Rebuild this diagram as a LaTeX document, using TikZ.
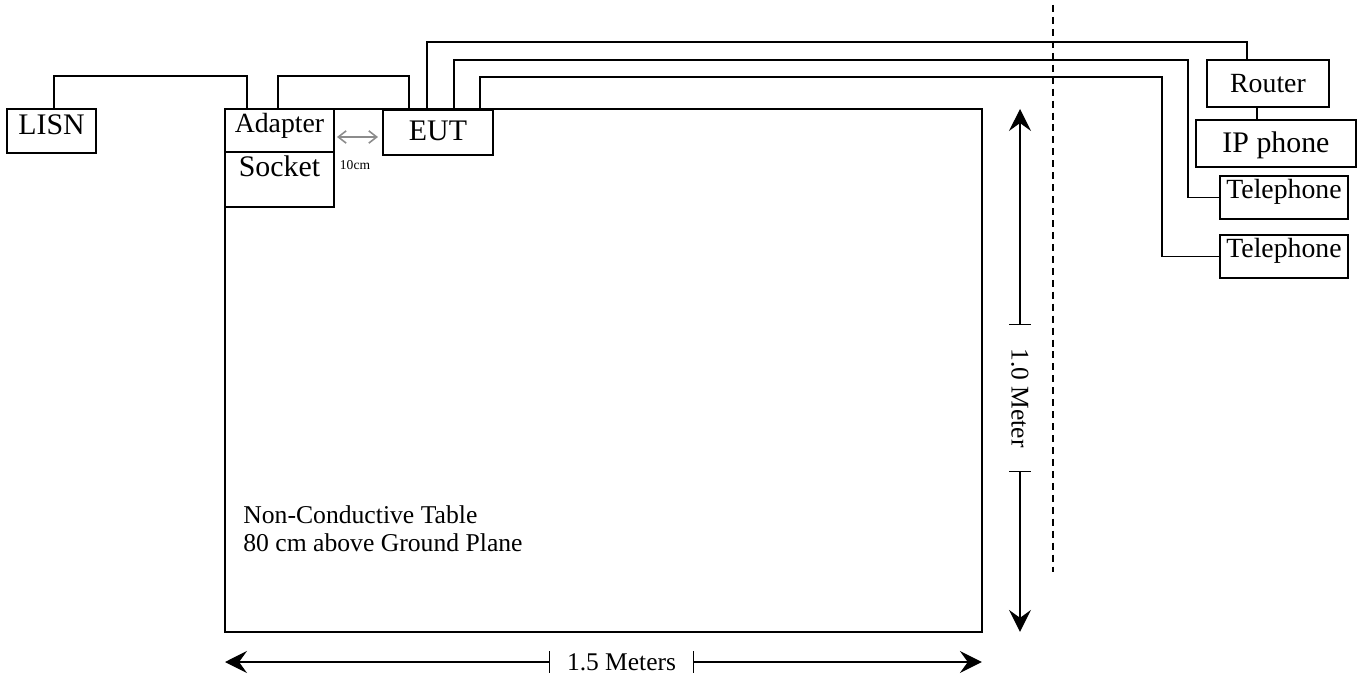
\documentclass[tikz,border=0pt]{standalone}
\usepackage{fontspec}
\setmainfont{Liberation Serif}
\usepackage{tikz}
\usetikzlibrary{arrows.meta,positioning}

\begin{document}
\begin{tikzpicture}[
    x=0.02cm, y=-0.02cm,
    box/.style={draw, line width=1pt, inner sep=0pt, outer sep=0pt, anchor=north west, fill=white},
    big/.style={font=\fontsize{17}{20}\selectfont},
    mid/.style={font=\fontsize{15.8}{19}\selectfont},
    wire/.style={line width=0.9pt},
    dimtext/.style={font=\fontsize{14.5}{17}\selectfont, inner sep=0pt, outer sep=0pt},
    dimline/.style={line width=0.75pt, {Bar[width=12pt]}-{Stealth[length=12.5pt, width=12.5pt, inset=4.5pt]}},
    gap/.style={draw=black!45, line width=0.9pt, {Straight Barb[length=4.5pt, width=7pt]}-{Straight Barb[length=4.5pt, width=7pt]}}
]
\useasboundingbox (0,0) rectangle (1362,678);

% table
\node[draw, line width=1pt, inner sep=0pt, outer sep=0pt, anchor=north west,
      minimum width=15.14cm, minimum height=10.46cm] (table) at (225,109) {};
\node[font=\fontsize{14.6}{16.4}\selectfont, align=left, inner sep=0pt, anchor=north west]
    (tabletext) at (243,505) {Non-Conductive Table\\80 cm above Ground Plane};

% equipment
\node[box, big, minimum width=1.78cm, text height=0.52cm, text depth=0.36cm] (LISN) at (7,109) {LISN};
\node[box, mid, minimum width=2.18cm, text height=0.48cm, text depth=0.38cm] (Adapter) at (225,109) {Adapter};
\node[box, big, minimum width=2.18cm, text height=0.5cm, text depth=0.6cm] (Socket) at (Adapter.south west) {Socket};
\node[box, big, minimum width=2.2cm, text height=0.62cm, text depth=0.28cm] (EUT) at (383,110) {EUT};
\node[box, mid, minimum width=2.44cm, text height=0.66cm, text depth=0.28cm] (Router) at (1207,60) {Router};
\node[box, big, minimum width=3.2cm, text height=0.66cm, text depth=0.28cm] (IPphone) at (1196,120) {IP phone};
\node[box, mid, minimum width=2.56cm, text height=0.46cm, text depth=0.4cm] (Tel1) at (1220,176) {Telephone};
\node[box, mid, minimum width=2.56cm, text height=0.46cm, text depth=0.4cm] (Tel2) at (1220,235) {Telephone};

% cables
\draw[wire] (LISN.north -| 54,0) |- (247,76) -- (Adapter.north -| 247,0);
\draw[wire] (Adapter.north -| 278,0) |- (409,76) -- (EUT.north -| 409,0);
\draw[wire] (EUT.north -| 427,0) |- (1247,42) -- (Router.north -| 1247,0);
\draw[wire] (EUT.north -| 454,0) |- (1188,60) |- (Tel1.west);
\draw[wire] (EUT.north -| 480,0) |- (1162,77) |- (Tel2.west);
\draw[wire] (Router.south -| 1257,0) -- (IPphone.north -| 1257,0);

% 10cm spacing
\draw[gap] (Adapter.east) ++(3,6.5) -- ++(41,0);
\node[font=\fontsize{7.7}{9}\selectfont, inner sep=0pt] (gaplabel) at (355,165) {10cm};

% boundary
\coordinate (boundtop) at (1053,5);
\coordinate (boundbot) at (1053,572);
\draw[line width=0.9pt, dash pattern=on 4pt off 2.8pt] (boundtop) -- (boundbot);

% dimensions
\node[dimtext, rotate=-90, minimum width=2.92cm] (hlen) at (1020,398) {1.0 Meter};
\draw[dimline] (hlen.west) -- (hlen.west |- table.north);
\draw[dimline] (hlen.east) -- (hlen.east |- table.south);

\node[dimtext, minimum width=2.86cm] (wlen) at (621.5,662) {1.5 Meters};
\draw[dimline] (wlen.west) -- (wlen.west -| table.west);
\draw[dimline] (wlen.east) -- (wlen.east -| table.east);
\end{tikzpicture}
\end{document}
